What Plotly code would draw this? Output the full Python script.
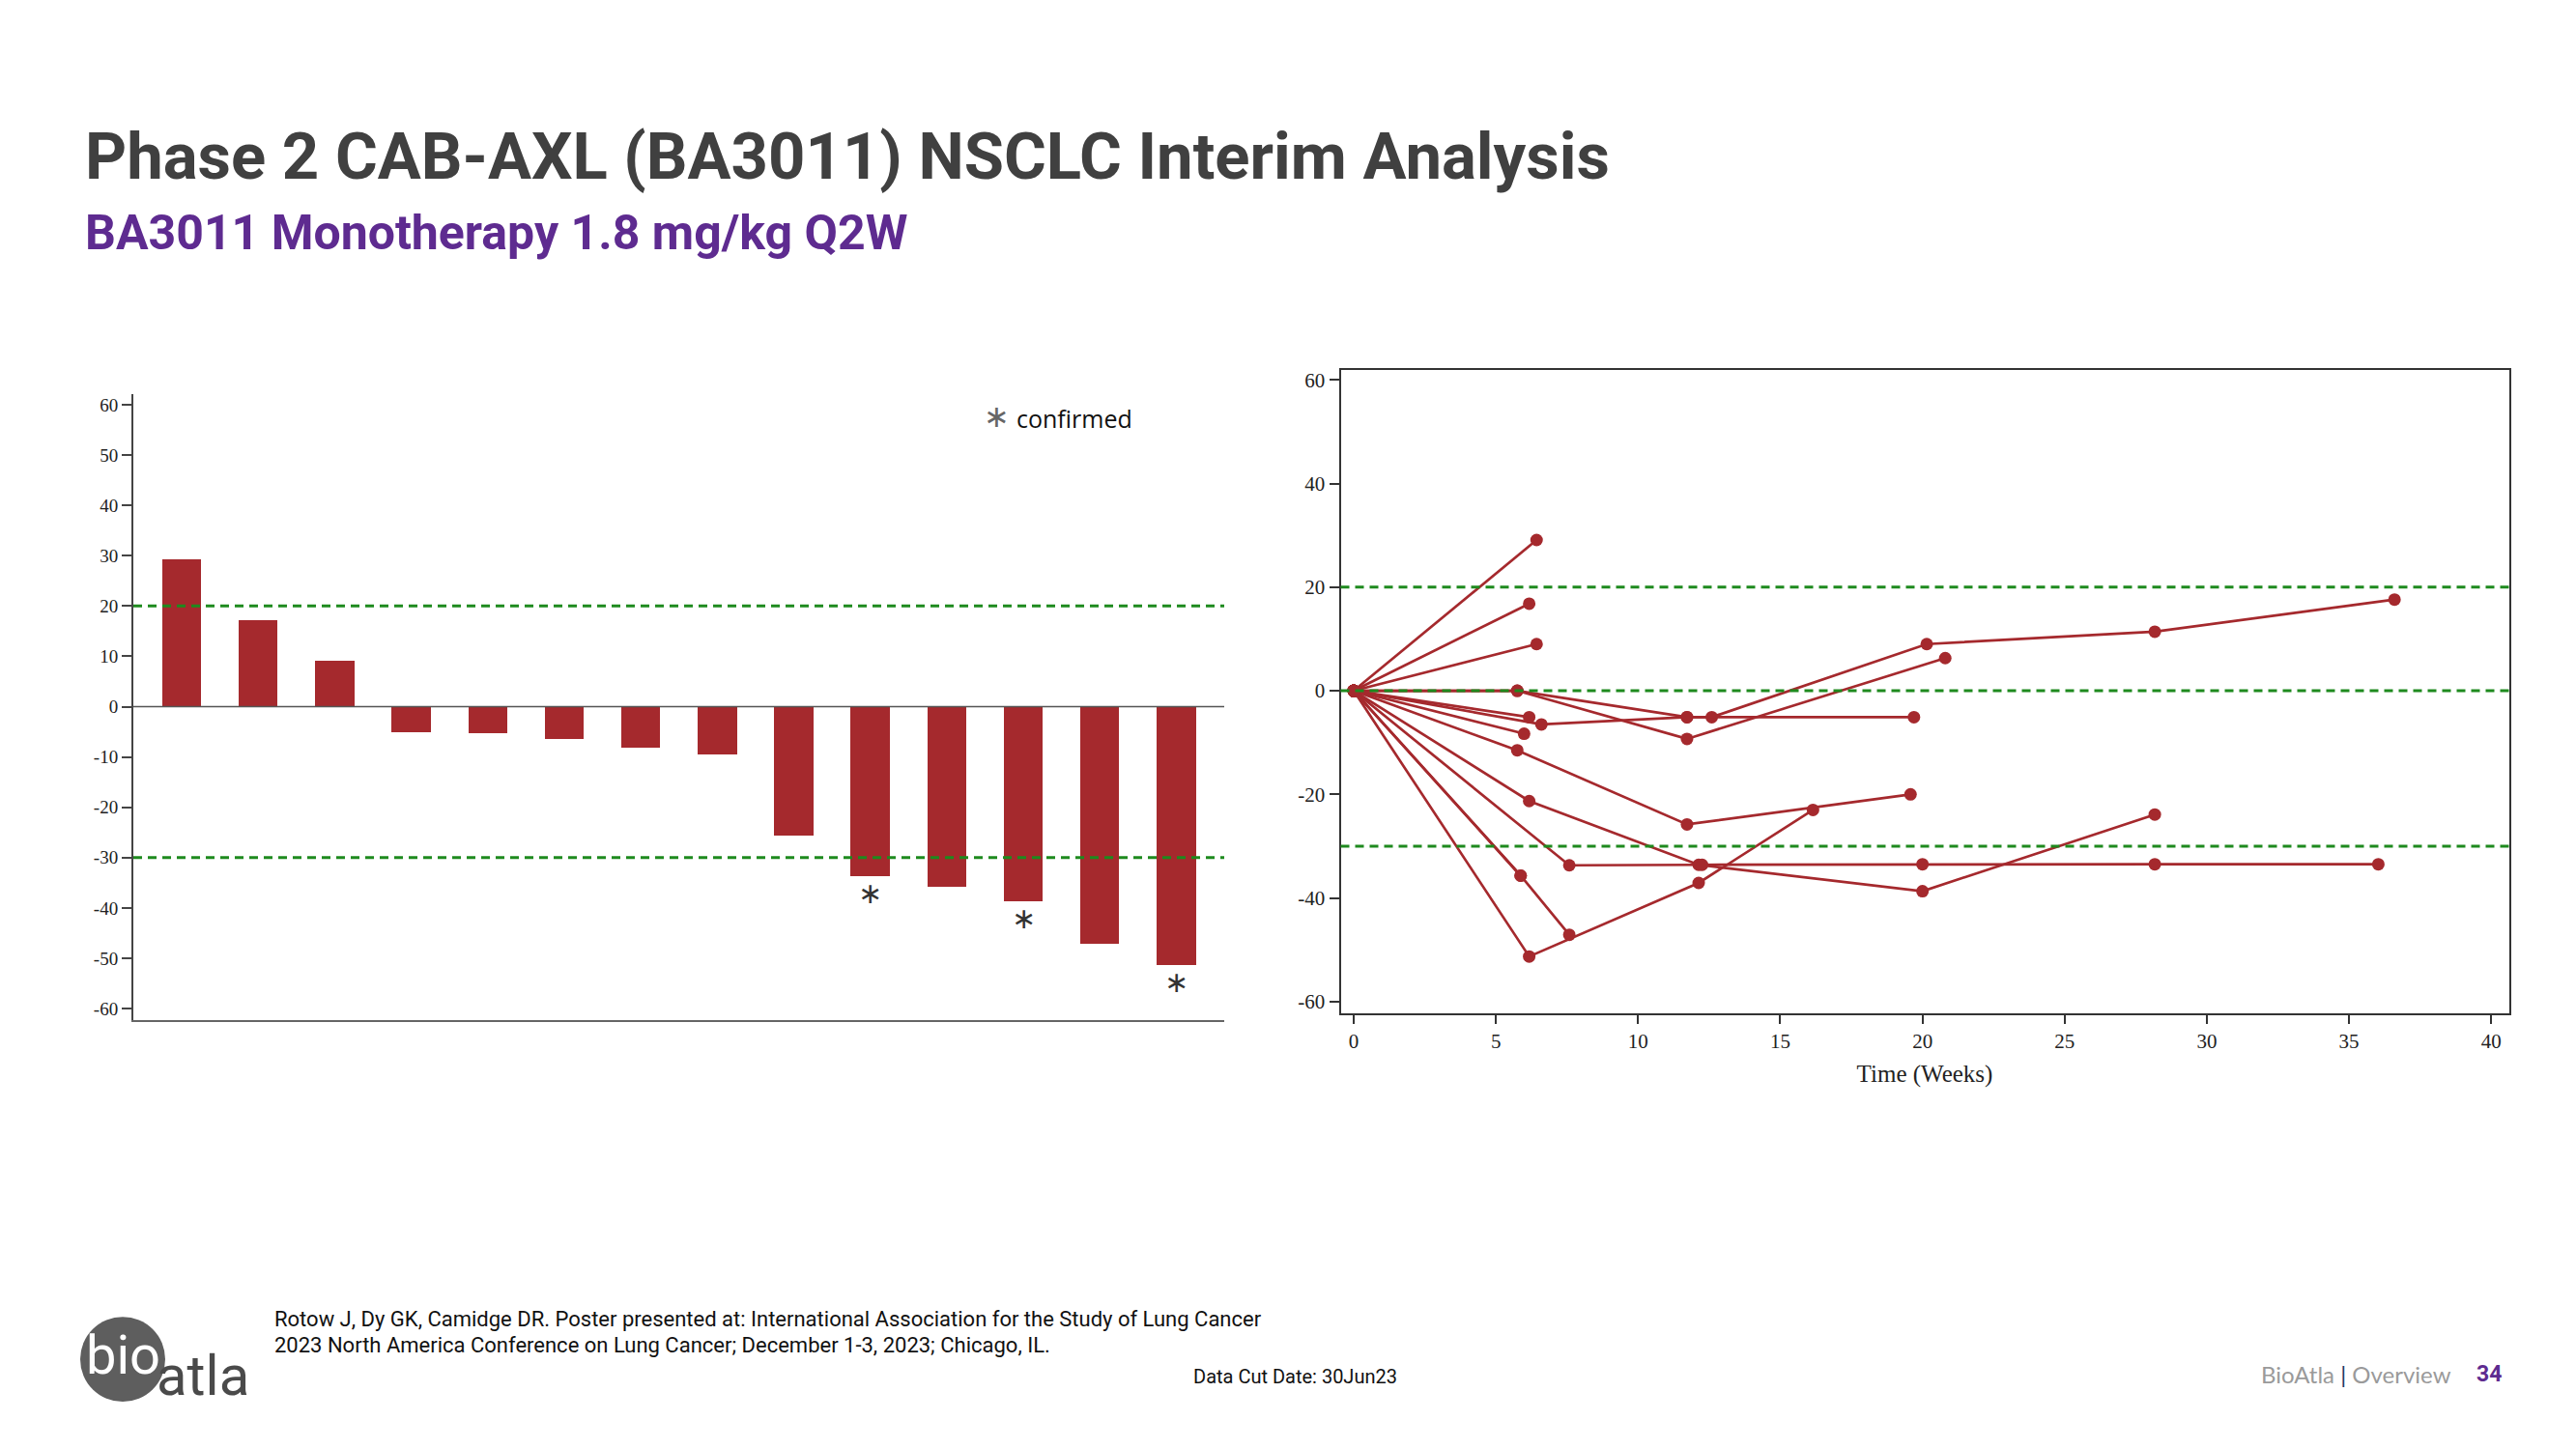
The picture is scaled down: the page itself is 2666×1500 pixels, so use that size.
import plotly.graph_objects as go

OFF = 8  # page body margin of the browser
FW, FH = 2666 - 2 * OFF, 1500 - 2 * OFF

# ---------------- data ----------------
# Waterfall: best % change from baseline per patient
bar_values = [29.2, 17.0, 9.0, -5.2, -5.3, -6.5, -8.3, -9.5, -25.8, -33.8, -35.9, -38.8, -47.2, -51.4]
confirmed_idx = [9, 11, 13]

# Spider plot: per-patient (weeks, % change)
p01_weeks = [0, 6.43]
p01_pct = [0, 29.1]
p02_weeks = [0, 6.17]
p02_pct = [0, 16.8]
p03_weeks = [0, 6.43]
p03_pct = [0, 9.0]
p04_weeks = [0, 5.75, 11.72, 12.59, 20.15, 28.17, 36.6]
p04_pct = [0, 0, -5.1, -5.1, 9.0, 11.4, 17.6]
p05_weeks = [0, 6.6, 11.72, 19.7]
p05_pct = [0, -6.5, -5.1, -5.1]
p06_weeks = [0, 5.75, 11.72, 20.8]
p06_pct = [0, 0, -9.3, 6.3]
p07_weeks = [0, 6.17]
p07_pct = [0, -5.1]
p08_weeks = [0, 5.99]
p08_pct = [0, -8.3]
p09_weeks = [0, 5.75, 11.72, 19.58]
p09_pct = [0, -11.5, -25.8, -20.0]
p10_weeks = [0, 6.17, 12.13, 20.0, 28.17]
p10_pct = [0, -21.3, -33.6, -38.7, -23.9]
p11_weeks = [0, 7.58, 12.25, 20.0, 28.17, 36.03]
p11_pct = [0, -33.7, -33.6, -33.5, -33.5, -33.5]
p12_weeks = [0, 5.87]
p12_pct = [0, -35.7]
p13_weeks = [0, 5.87, 7.58]
p13_pct = [0, -35.7, -47.1]
p14_weeks = [0, 6.17, 12.13, 16.15]
p14_pct = [0, -51.3, -37.1, -23.0]

spider = [
    (p01_weeks, p01_pct), (p02_weeks, p02_pct), (p03_weeks, p03_pct),
    (p04_weeks, p04_pct), (p05_weeks, p05_pct), (p06_weeks, p06_pct),
    (p07_weeks, p07_pct), (p08_weeks, p08_pct), (p09_weeks, p09_pct),
    (p10_weeks, p10_pct), (p11_weeks, p11_pct), (p12_weeks, p12_pct),
    (p13_weeks, p13_pct), (p14_weeks, p14_pct),
]

left_ytickvals = [60, 50, 40, 30, 20, 10, 0, -10, -20, -30, -40, -50, -60]
left_yticktext = ["60", "50", "40", "30", "20", "10", "0", "-10", "-20", "-30", "-40", "-50", "-60"]
right_ytickvals = [60, 40, 20, 0, -20, -40, -60]
right_yticktext = ["60", "40", "20", "0", "-20", "-40", "-60"]
right_xtickvals = [0, 5, 10, 15, 20, 25, 30, 35, 40]

thresholds_left = [20, -30]
thresholds_right = [20, 0, -30]

# ---------------- style ----------------
RED = "#A5292D"
GREEN = "#1E8A1E"
SERIF = "Liberation Serif, Times New Roman, serif"


def px_x(p):
    return (p - OFF) / FW


def px_y(p):
    return 1 - (p - OFF) / FH


fig = go.Figure()

fig.add_trace(go.Bar(
    x=list(range(len(bar_values))), y=bar_values,
    marker=dict(color=RED, line=dict(width=0)),
    width=0.51, xaxis="x", yaxis="y", showlegend=False,
))

for wk, pc in spider:
    fig.add_trace(go.Scatter(
        x=wk, y=pc, mode="lines+markers",
        line=dict(color=RED, width=2.7),
        marker=dict(color=RED, size=13),
        xaxis="x2", yaxis="y2", showlegend=False,
    ))

shapes = []
for t in thresholds_left:
    shapes.append(dict(type="line", xref="x domain", yref="y", x0=0, x1=1, y0=t, y1=t,
                       line=dict(color=GREEN, width=3, dash="9px,6px"), layer="above"))
for t in thresholds_right:
    shapes.append(dict(type="line", xref="x2 domain", yref="y2", x0=0, x1=1, y0=t, y1=t,
                       line=dict(color=GREEN, width=3, dash="9px,6px"), layer="above"))
# zero line for waterfall
shapes.append(dict(type="line", xref="x domain", yref="y", x0=0, x1=1, y0=0, y1=0,
                   line=dict(color="#555555", width=1.6), layer="above"))
# logo circle
shapes.append(dict(type="circle", xref="paper", yref="paper",
                   x0=px_x(83), x1=px_x(171), y0=px_y(1452), y1=px_y(1364),
                   fillcolor="#5E5E5E", line=dict(width=0)))

annotations = []
for i in confirmed_idx:
    annotations.append(dict(x=i, y=bar_values[i], xref="x", yref="y", text="∗",
                            showarrow=False, yanchor="middle", yshift=-17,
                            font=dict(family="DejaVu Sans", size=30, color="#333333")))

annotations += [
    dict(x=px_x(86), y=px_y(161), xref="paper", yref="paper", xanchor="left", yanchor="middle",
         text="<b>Phase 2 CAB-AXL (BA3011) NSCLC Interim Analysis</b>", showarrow=False,
         font=dict(family="Roboto", size=67, color="#404040")),
    dict(x=px_x(86), y=px_y(240), xref="paper", yref="paper", xanchor="left", yanchor="middle",
         text="<b>BA3011 Monotherapy 1.8 mg/kg Q2W</b>", showarrow=False,
         font=dict(family="Roboto", size=50, color="#5E2B90")),
    dict(x=px_x(1016), y=px_y(431), xref="paper", yref="paper", xanchor="left", yanchor="middle",
         text="∗", showarrow=False, font=dict(family="DejaVu Sans", size=32, color="#666666")),
    dict(x=px_x(1050), y=px_y(433), xref="paper", yref="paper", xanchor="left", yanchor="middle",
         text="confirmed", showarrow=False, font=dict(family="Open Sans", size=25, color="#111111")),
    dict(x=px_x(282), y=px_y(1366), xref="paper", yref="paper", xanchor="left", yanchor="middle",
         text="Rotow J, Dy GK, Camidge DR. Poster presented at: International Association for the Study of Lung Cancer",
         showarrow=False, font=dict(family="Roboto", size=22, color="#111111")),
    dict(x=px_x(282), y=px_y(1393), xref="paper", yref="paper", xanchor="left", yanchor="middle",
         text="2023 North America Conference on Lung Cancer; December 1-3, 2023; Chicago, IL.",
         showarrow=False, font=dict(family="Roboto", size=22, color="#111111")),
    dict(x=px_x(1233), y=px_y(1426), xref="paper", yref="paper", xanchor="left", yanchor="middle",
         text="Data Cut Date: 30Jun23", showarrow=False,
         font=dict(family="Roboto", size=20, color="#111111")),
    dict(x=px_x(2338), y=px_y(1423), xref="paper", yref="paper", xanchor="left", yanchor="middle",
         text="BioAtla <span style='color:#1F3864'>|</span> Overview", showarrow=False,
         font=dict(family="Lato", size=24, color="#9A9A9A")),
    dict(x=px_x(2561), y=px_y(1423), xref="paper", yref="paper", xanchor="left", yanchor="middle",
         text="<b>34</b>", showarrow=False, font=dict(family="Roboto", size=23, color="#5E2B90")),
    dict(x=px_x(127), y=px_y(1404), xref="paper", yref="paper", xanchor="center", yanchor="middle",
         text="bio", showarrow=False, font=dict(family="Roboto", size=56, color="#FFFFFF")),
    dict(x=px_x(160), y=px_y(1425), xref="paper", yref="paper", xanchor="left", yanchor="middle",
         text="atla", showarrow=False, font=dict(family="Roboto", size=58, color="#4A4A4A")),
]

fig.update_layout(
    width=FW, height=FH,
    margin=dict(l=0, r=0, t=0, b=0),
    paper_bgcolor="white", plot_bgcolor="white",
    bargap=0,
    shapes=shapes, annotations=annotations,
    xaxis=dict(domain=[px_x(138), px_x(1267)], range=[-0.633, 13.627],
               showticklabels=False, ticks="", showgrid=False, zeroline=False,
               showline=True, linecolor="#666666", linewidth=2, fixedrange=True),
    yaxis=dict(domain=[px_y(1056), px_y(408)], range=[-62.2, 62.0],
               tickvals=left_ytickvals, ticktext=left_yticktext,
               ticks="outside", ticklen=10, tickwidth=1.5, tickcolor="#444444",
               showgrid=False, zeroline=False,
               showline=True, linecolor="#444444", linewidth=2,
               tickfont=dict(family=SERIF, size=19, color="#222222")),
    xaxis2=dict(domain=[px_x(1387.5), px_x(2596.5)], range=[-0.46, 40.62],
                tickvals=right_xtickvals, ticks="outside", ticklen=9, tickwidth=1.5,
                tickcolor="#333333", showgrid=False, zeroline=False,
                showline=True, mirror=True, linecolor="#333333", linewidth=2,
                tickfont=dict(family=SERIF, size=21, color="#222222"),
                title=dict(text="Time (Weeks)", font=dict(family=SERIF, size=25, color="#222222"),
                           standoff=14),
                anchor="y2"),
    yaxis2=dict(domain=[px_y(1049), px_y(382.6)], range=[-62.2, 61.9],
                tickvals=right_ytickvals, ticktext=right_yticktext,
                ticks="outside", ticklen=10, tickwidth=1.5, tickcolor="#333333",
                showgrid=False, zeroline=False,
                showline=True, mirror=True, linecolor="#333333", linewidth=2,
                tickfont=dict(family=SERIF, size=21, color="#222222"),
                anchor="x2"),
)

fig.write_html("out.html")
